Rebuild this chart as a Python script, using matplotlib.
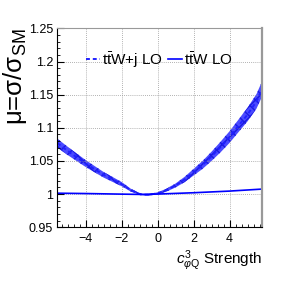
import numpy as np
import matplotlib
matplotlib.use("Agg")
import matplotlib.pyplot as plt
from matplotlib.ticker import MultipleLocator

plt.rcParams["font.family"] = ["Liberation Sans", "DejaVu Sans"]
plt.rcParams["mathtext.fontset"] = "custom"
plt.rcParams["mathtext.rm"] = "Liberation Sans"
plt.rcParams["mathtext.it"] = "Liberation Sans:italic"

# ttW+j LO band
x_ttwj = [-5.58, -5.0, -4.0, -3.0, -2.0, -1.5, -1.0, -0.8, -0.5, 0.0, 0.5, 1.0, 1.5, 2.0, 2.5, 3.0, 3.5, 4.0, 4.5, 5.0, 5.5, 5.8]
mu_ttwj = [1.077, 1.065, 1.046, 1.029, 1.015, 1.006, 1.000, 0.999, 0.999, 1.001, 1.006, 1.013, 1.022, 1.033, 1.044, 1.057, 1.071, 1.086, 1.103, 1.120, 1.140, 1.158]
err_ttwj = [0.0068, 0.0062, 0.0052, 0.0042, 0.0032, 0.0022, 0.0014, 0.0012, 0.0012, 0.0016, 0.0022, 0.003, 0.004, 0.005, 0.006, 0.007, 0.008, 0.0088, 0.0095, 0.0103, 0.011, 0.0115]

# ttW LO line
x_ttw = [-5.58, -4.0, -2.0, -1.0, 0.0, 2.0, 4.0, 5.8]
mu_ttw = [1.0013, 1.0008, 0.9999, 0.9995, 1.0, 1.002, 1.0045, 1.0075]

blue = "#0000ff"

fig = plt.figure(figsize=(2.91, 2.84), dpi=100)
ax = fig.add_axes([0.197, 0.2, 0.703, 0.7])

lo = np.array(mu_ttwj) - np.array(err_ttwj)
hi = np.array(mu_ttwj) + np.array(err_ttwj)
ax.fill_between(x_ttwj, lo, hi, facecolor="#4a4aff", edgecolor="#1a1ae0",
                hatch="xxx", linewidth=0)
ax.plot(x_ttwj, mu_ttwj, color="#2020ff", ls=(0, (2, 1.5)), lw=1.4, label="t$\\bar{\\mathrm{t}}$W+j LO")
ax.plot(x_ttw, mu_ttw, color=blue, lw=1.2, label="t$\\bar{\\mathrm{t}}$W LO")

ax.set_xlim(-5.58, 5.8)
ax.set_ylim(0.95, 1.25)
ax.xaxis.set_major_locator(MultipleLocator(2))
ax.xaxis.set_minor_locator(MultipleLocator(1 / 3))
ax.yaxis.set_minor_locator(MultipleLocator(0.01))
ax.set_yticks([0.95, 1.0, 1.05, 1.1, 1.15, 1.2, 1.25])
ax.set_yticklabels(["0.95", "1", "1.05", "1.1", "1.15", "1.2", "1.25"])
ax.tick_params(which="both", direction="in", labelsize=9)
ax.tick_params(axis="x", pad=4)
ax.tick_params(axis="y", pad=3)
ax.tick_params(which="major", length=5)
ax.tick_params(which="minor", length=2.5)
ax.grid(True, which="major", color="#999999", ls=(0, (1, 1.5)), lw=0.6)

for s in ["top", "right"]:
    ax.spines[s].set_color("#999999")
ax.spines["right"].set_linewidth(1.6)

ax.set_ylabel("μ=σ/σ$_{\\mathrm{SM}}$", fontsize=18.5, ha="right")
ax.yaxis.set_label_coords(-0.14, 1.0)
ax.set_xlabel("$c^{3}_{\\varphi\\mathrm{Q}}$ Strength", fontsize=11, ha="right")
ax.xaxis.set_label_coords(1.0, -0.105)

ax.legend(loc="center", bbox_to_anchor=(0.5, 0.843), ncol=2, frameon=False,
          fontsize=11, handlelength=0.9, handletextpad=0.15, columnspacing=0.35,
          borderaxespad=0, borderpad=0)

plt.savefig("out.png", dpi=100)
